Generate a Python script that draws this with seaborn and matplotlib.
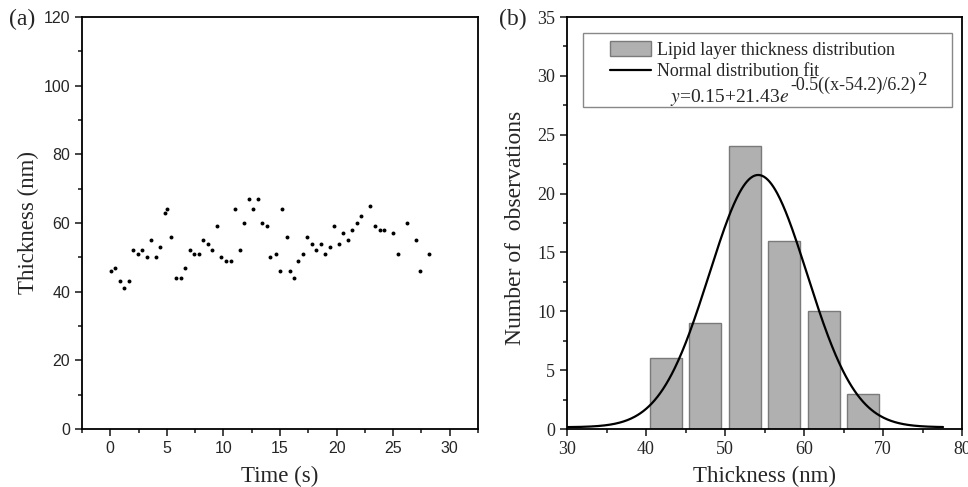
import numpy as np
import pandas as pd
import seaborn as sns
import matplotlib.pyplot as plt
import matplotlib.transforms as mtrans
from matplotlib.lines import Line2D
from matplotlib.patches import Patch, Rectangle
from matplotlib.ticker import MultipleLocator

# (a) thickness vs time
time_s = [0.04, 0.46, 0.84, 1.22, 1.63, 2.02, 2.43, 2.84, 3.22, 3.64, 4.02, 4.43,
          4.81, 5.02, 5.40, 5.82, 6.23, 6.61, 7.02, 7.40, 7.82, 8.23, 8.61, 9.03,
          9.41, 9.82, 10.23, 10.64, 11.03, 11.44, 11.82, 12.23, 12.62, 13.03, 13.44,
          13.83, 14.15, 14.62, 15.00, 15.21, 15.59, 15.92, 16.21, 16.59, 17.00, 17.42,
          17.80, 18.21, 18.60, 19.01, 19.42, 19.80, 20.21, 20.60, 21.01, 21.40, 21.80,
          22.19, 22.98, 23.39, 23.81, 24.22, 25.00, 25.40, 26.19, 26.99, 27.40, 28.20]
thick_nm = [46, 47, 43, 41, 43, 52, 51, 52, 50, 55, 50, 53,
            63, 64, 56, 44, 44, 47, 52, 51, 51, 55, 54, 52,
            59, 50, 49, 49, 64, 52, 60, 67, 64, 67, 60,
            59, 50, 51, 46, 64, 56, 46, 44, 49, 51, 56,
            54, 52, 54, 51, 53, 59, 54, 57, 55, 58, 60,
            62, 65, 59, 58, 58, 57, 51, 60, 55, 46, 51]

# (b) histogram
bin_centers = [42.5, 47.5, 52.5, 57.5, 62.5, 67.5]
counts = [6, 9, 24, 16, 10, 3]

# gaussian fit shown in the legend
fit_y0, fit_a, fit_xc, fit_w = 0.15, 21.43, 54.2, 6.2

sns.set_style("ticks")
plt.rcParams['font.family'] = ['Liberation Serif', 'DejaVu Serif']
plt.rcParams['mathtext.fontset'] = 'stix'

fig = plt.figure(figsize=(9.68, 4.87), dpi=100)
W, H = 968, 487
ax1 = fig.add_axes([82 / W, 1 - 429 / H, (478 - 82) / W, (429 - 17) / H])
ax2 = fig.add_axes([567 / W, 1 - 429 / H, (962 - 567) / W, (429 - 17) / H])

df_a = pd.DataFrame({'Time (s)': time_s, 'Thickness (nm)': thick_nm})
sns.scatterplot(data=df_a, x='Time (s)', y='Thickness (nm)', ax=ax1,
                color='black', s=8, linewidth=0)
ax1.set_xlim(-2.5, 32.5)
ax1.set_ylim(0, 120)
ax1.xaxis.set_major_locator(MultipleLocator(5))
ax1.xaxis.set_minor_locator(MultipleLocator(2.5))
ax1.yaxis.set_major_locator(MultipleLocator(20))
ax1.yaxis.set_minor_locator(MultipleLocator(10))
for lab in ax1.get_xticklabels() + ax1.get_yticklabels():
    lab.set_fontfamily('Liberation Sans')
    lab.set_fontsize(11.5)
ax1.set_xlabel('Time (s)', fontsize=16.5, labelpad=7)
ax1.set_ylabel('Thickness (nm)', fontsize=16.5, labelpad=3.5)

df_b = pd.DataFrame({'bin': bin_centers, 'count': counts})
sns.barplot(data=df_b, x='bin', y='count', ax=ax2, native_scale=True, width=0.8,
            color='#b0b0b0', edgecolor='#7a7a7a', linewidth=1, saturation=1)
xs = np.linspace(30, 77.6, 400)
df_fit = pd.DataFrame({'x': xs,
                       'y': fit_y0 + fit_a * np.exp(-0.5 * ((xs - fit_xc) / fit_w) ** 2)})
sns.lineplot(data=df_fit, x='x', y='y', ax=ax2, color='black', linewidth=1.6)
ax2.set_xlim(30, 80)
ax2.set_ylim(0, 35)
ax2.xaxis.set_major_locator(MultipleLocator(10))
ax2.xaxis.set_minor_locator(MultipleLocator(5))
ax2.yaxis.set_major_locator(MultipleLocator(5))
ax2.yaxis.set_minor_locator(MultipleLocator(2.5))
ax2.tick_params(labelsize=13)
ax2.set_xlabel('Thickness (nm)', fontsize=16.5, labelpad=6)
ax2.set_ylabel('Number of  observations', fontsize=17, labelpad=4)

# legend: two entries plus the fit equation, in one grey frame
handles = [Patch(facecolor='#b0b0b0', edgecolor='#7a7a7a'),
           Line2D([], [], color='black', linewidth=1.6)]
labels = ['Lipid layer thickness distribution', 'Normal distribution fit']
leg = ax2.legend(handles, labels, loc='upper left', bbox_to_anchor=(0.109, 0.941),
                 fontsize=13, frameon=False, handlelength=2.28, handleheight=0.87,
                 handletextpad=0.3, labelspacing=0.22, borderpad=0, borderaxespad=0)
ax2.add_patch(Rectangle((0.0405, 0.7816), 0.934, 0.1796, transform=ax2.transAxes,
                        facecolor='white', edgecolor='#888888', linewidth=1,
                        zorder=4))
leg.set_zorder(5)

eq_y = (429 - 102) / 412
t1 = ax2.text(0.262, eq_y, r'$\mathit{y}$=0.15+21.43$\mathit{e}$',
              transform=ax2.transAxes, fontsize=14, va='baseline', ha='left',
              zorder=6)
fig.canvas.draw()
ident = mtrans.IdentityTransform()
base_y = ax2.transAxes.transform((0.262, eq_y))[1]
bb1 = t1.get_window_extent()
t2 = fig.text(bb1.x1 + 1, base_y + 12, '-0.5((x-54.2)/6.2)', transform=ident,
              fontsize=13, va='baseline', ha='left', zorder=6)
fig.canvas.draw()
bb2 = t2.get_window_extent()
fig.text(bb2.x1 + 1, base_y + 17, '2', transform=ident, fontsize=13.5,
         va='baseline', ha='left', zorder=6)

for ax in (ax1, ax2):
    for sp in ax.spines.values():
        sp.set_visible(True)
        sp.set_color('black')
        sp.set_linewidth(1.3)
    ax.tick_params(which='major', direction='out', length=5, width=1.2,
                   top=False, right=False)
    ax.tick_params(which='minor', direction='out', length=3, width=1.2,
                   top=False, right=False)

ax2.yaxis.set_label_coords(-0.105, 0.488)

fig.text(9 / W, 1 - 19 / H, '(a)', fontsize=17, va='center', ha='left')
fig.text(499 / W, 1 - 19 / H, '(b)', fontsize=17, va='center', ha='left')

fig.savefig('out.png', dpi=100)
